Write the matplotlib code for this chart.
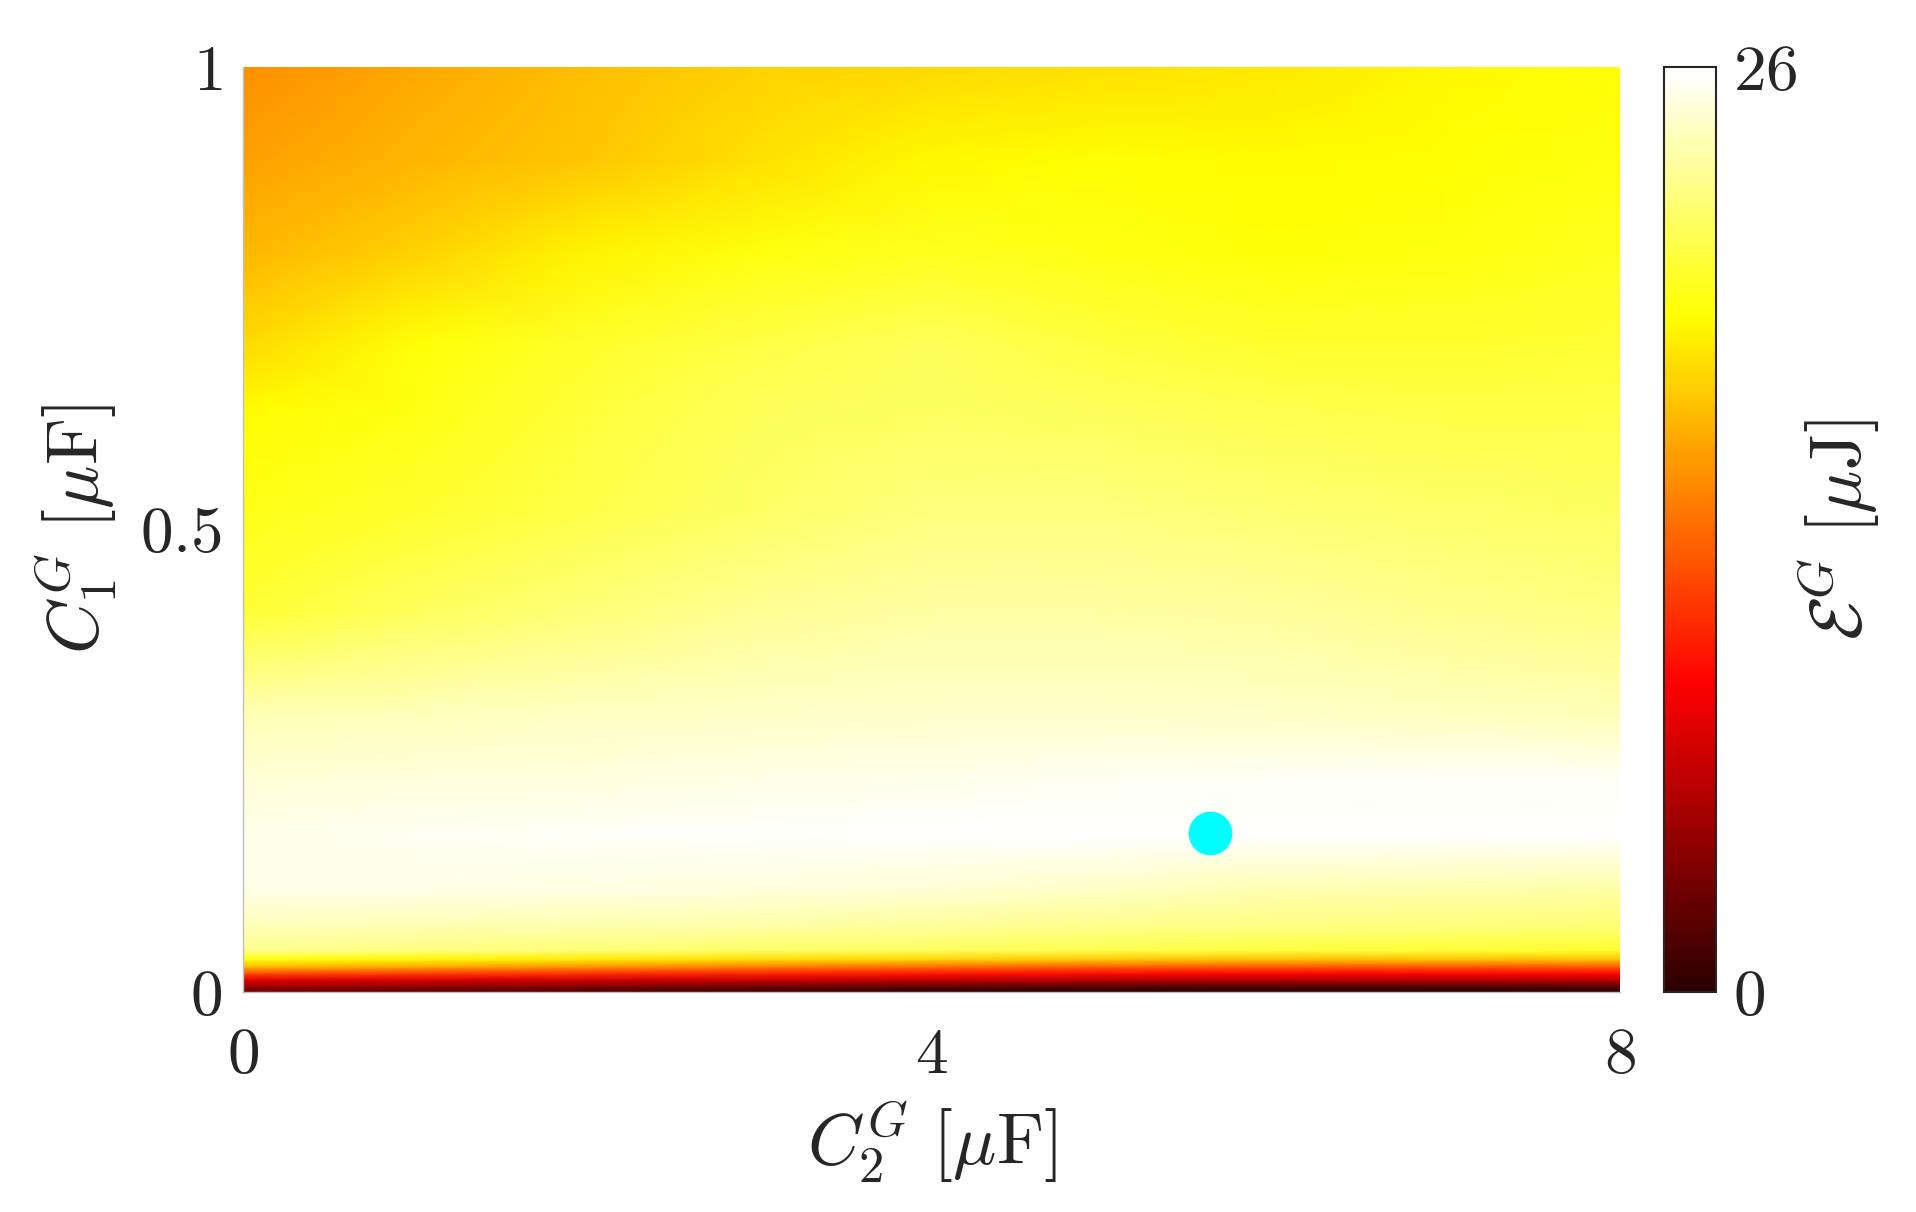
import numpy as np
import matplotlib
matplotlib.use("Agg")
import matplotlib.pyplot as plt
from matplotlib.colors import ListedColormap

plt.rcParams["mathtext.fontset"] = "cm"
plt.rcParams["font.family"] = "serif"
plt.rcParams["font.serif"] = ["cmr10", "DejaVu Serif"]

# grid of the energy map
c2 = [0, 1, 2, 3, 4, 5, 6, 7, 8]  # uF
c1 = [0.0, 0.006, 0.013, 0.020, 0.027, 0.035, 0.045, 0.07, 0.11, 0.17,
      0.23, 0.30, 0.41, 0.52, 0.63, 0.70, 0.80, 0.90, 1.0]  # uF

# energy [uJ], one row per c1 value, columns follow c2
e_rows = [
    [3.2, 2.3, 1.6, 0.9, 0.3, 0.0, 0.0, 0.0, 0.0],
    [4.5, 3.9, 3.4, 2.8, 2.3, 1.8, 1.6, 1.7, 1.8],
    [7.5, 7.2, 6.8, 6.4, 6.0, 5.6, 5.4, 5.5, 5.6],
    [11.6, 11.1, 10.5, 10.0, 9.5, 9.1, 8.8, 8.9, 8.9],
    [16.0, 15.3, 14.4, 13.7, 12.9, 12.3, 12.0, 12.0, 12.1],
    [19.2, 18.6, 18.1, 17.6, 17.1, 16.6, 16.4, 16.4, 16.4],
    [22.8, 22.5, 22.2, 21.8, 21.5, 21.1, 20.7, 20.5, 20.3],
    [24.0, 23.8, 23.6, 23.4, 23.1, 22.7, 22.5, 22.3, 22.1],
    [25.2, 25.2, 25.1, 24.9, 24.7, 24.3, 23.8, 23.6, 23.4],
    [25.3, 25.5, 25.6, 25.7, 25.8, 25.9, 26.0, 25.95, 25.9],
    [24.8, 24.9, 25.0, 25.2, 25.3, 25.5, 25.6, 25.6, 25.6],
    [23.9, 24.1, 24.3, 24.4, 24.5, 24.5, 24.4, 24.2, 24.0],
    [20.5, 21.5, 22.3, 23.0, 23.4, 23.4, 23.2, 22.8, 22.5],
    [19.7, 20.3, 21.0, 21.8, 22.4, 22.4, 22.1, 21.9, 21.7],
    [18.8, 19.5, 20.6, 21.4, 21.7, 21.4, 21.1, 20.9, 20.9],
    [17.5, 19.1, 20.2, 20.9, 21.4, 20.7, 20.3, 20.3, 20.5],
    [16.1, 17.1, 18.5, 19.4, 19.9, 19.5, 19.1, 19.3, 19.9],
    [15.2, 16.0, 16.7, 17.8, 18.7, 19.0, 18.8, 19.0, 19.4],
    [14.5, 15.5, 16.4, 17.1, 17.5, 17.8, 18.1, 18.7, 19.1],
]

# optimum marker
opt_c2 = 5.62
opt_c1 = 0.172

e_min, e_max = 0, 26

# hot map, with the darkest end dropped like in the original colorbar
cmap = ListedColormap(plt.cm.hot(np.linspace(0.05, 1, 256)))

fig = plt.figure(figsize=(19.16, 12.12), dpi=100)
ax = fig.add_axes([0.1268, 0.1815, 0.7187, 0.7632])
cax = fig.add_axes([0.8685, 0.1815, 0.0271, 0.7632])

X, Y = np.meshgrid(c2, c1)
mesh = ax.pcolormesh(X, Y, np.array(e_rows), cmap=cmap, vmin=e_min, vmax=e_max,
                     shading="gouraud")
ax.plot(opt_c2, opt_c1, "o", color="#00ffff", markersize=31.5, markeredgewidth=0)

ax.set_xlim(0, 8)
ax.set_ylim(0, 1)
ax.set_xticks([0, 4, 8])
ax.set_xticklabels(["$0$", "$4$", "$8$"])
ax.set_yticks([0, 0.5, 1])
ax.set_yticklabels(["$0$", "$0.5$", "$1$"])
ax.tick_params(axis="both", length=0, labelsize=47, colors="#262626")
ax.tick_params(axis="x", pad=26)
ax.tick_params(axis="y", pad=15)
for s in ["top", "right"]:
    ax.spines[s].set_visible(False)
for s in ["bottom", "left"]:
    ax.spines[s].set_color("#c0c0c0")
    ax.spines[s].set_linewidth(1.0)

ax.set_xlabel(r"$C_2^G\ [\mu\mathrm{F}]$", fontsize=52, color="#262626", va="center")
ax.xaxis.set_label_coords(0.5, -0.162)
ax.set_ylabel(r"$C_1^G\ [\mu\mathrm{F}]$", fontsize=52, color="#262626", va="center")
ax.yaxis.set_label_coords(-0.121, 0.5)

cb = fig.colorbar(mesh, cax=cax, ticks=[e_min, e_max])
cb.ax.set_yticklabels(["$0$", "$26$"])
cb.ax.tick_params(length=0, labelsize=47, colors="#262626", pad=12)
cb.outline.set_edgecolor("#262626")
cb.outline.set_linewidth(1.5)
cb.set_label(r"$\mathcal{E}^G\ [\mu\mathrm{J}]$", fontsize=52, color="#262626", va="center")
cb.ax.yaxis.set_label_coords(3.37, 0.5)

fig.savefig("out.png", dpi=100)
